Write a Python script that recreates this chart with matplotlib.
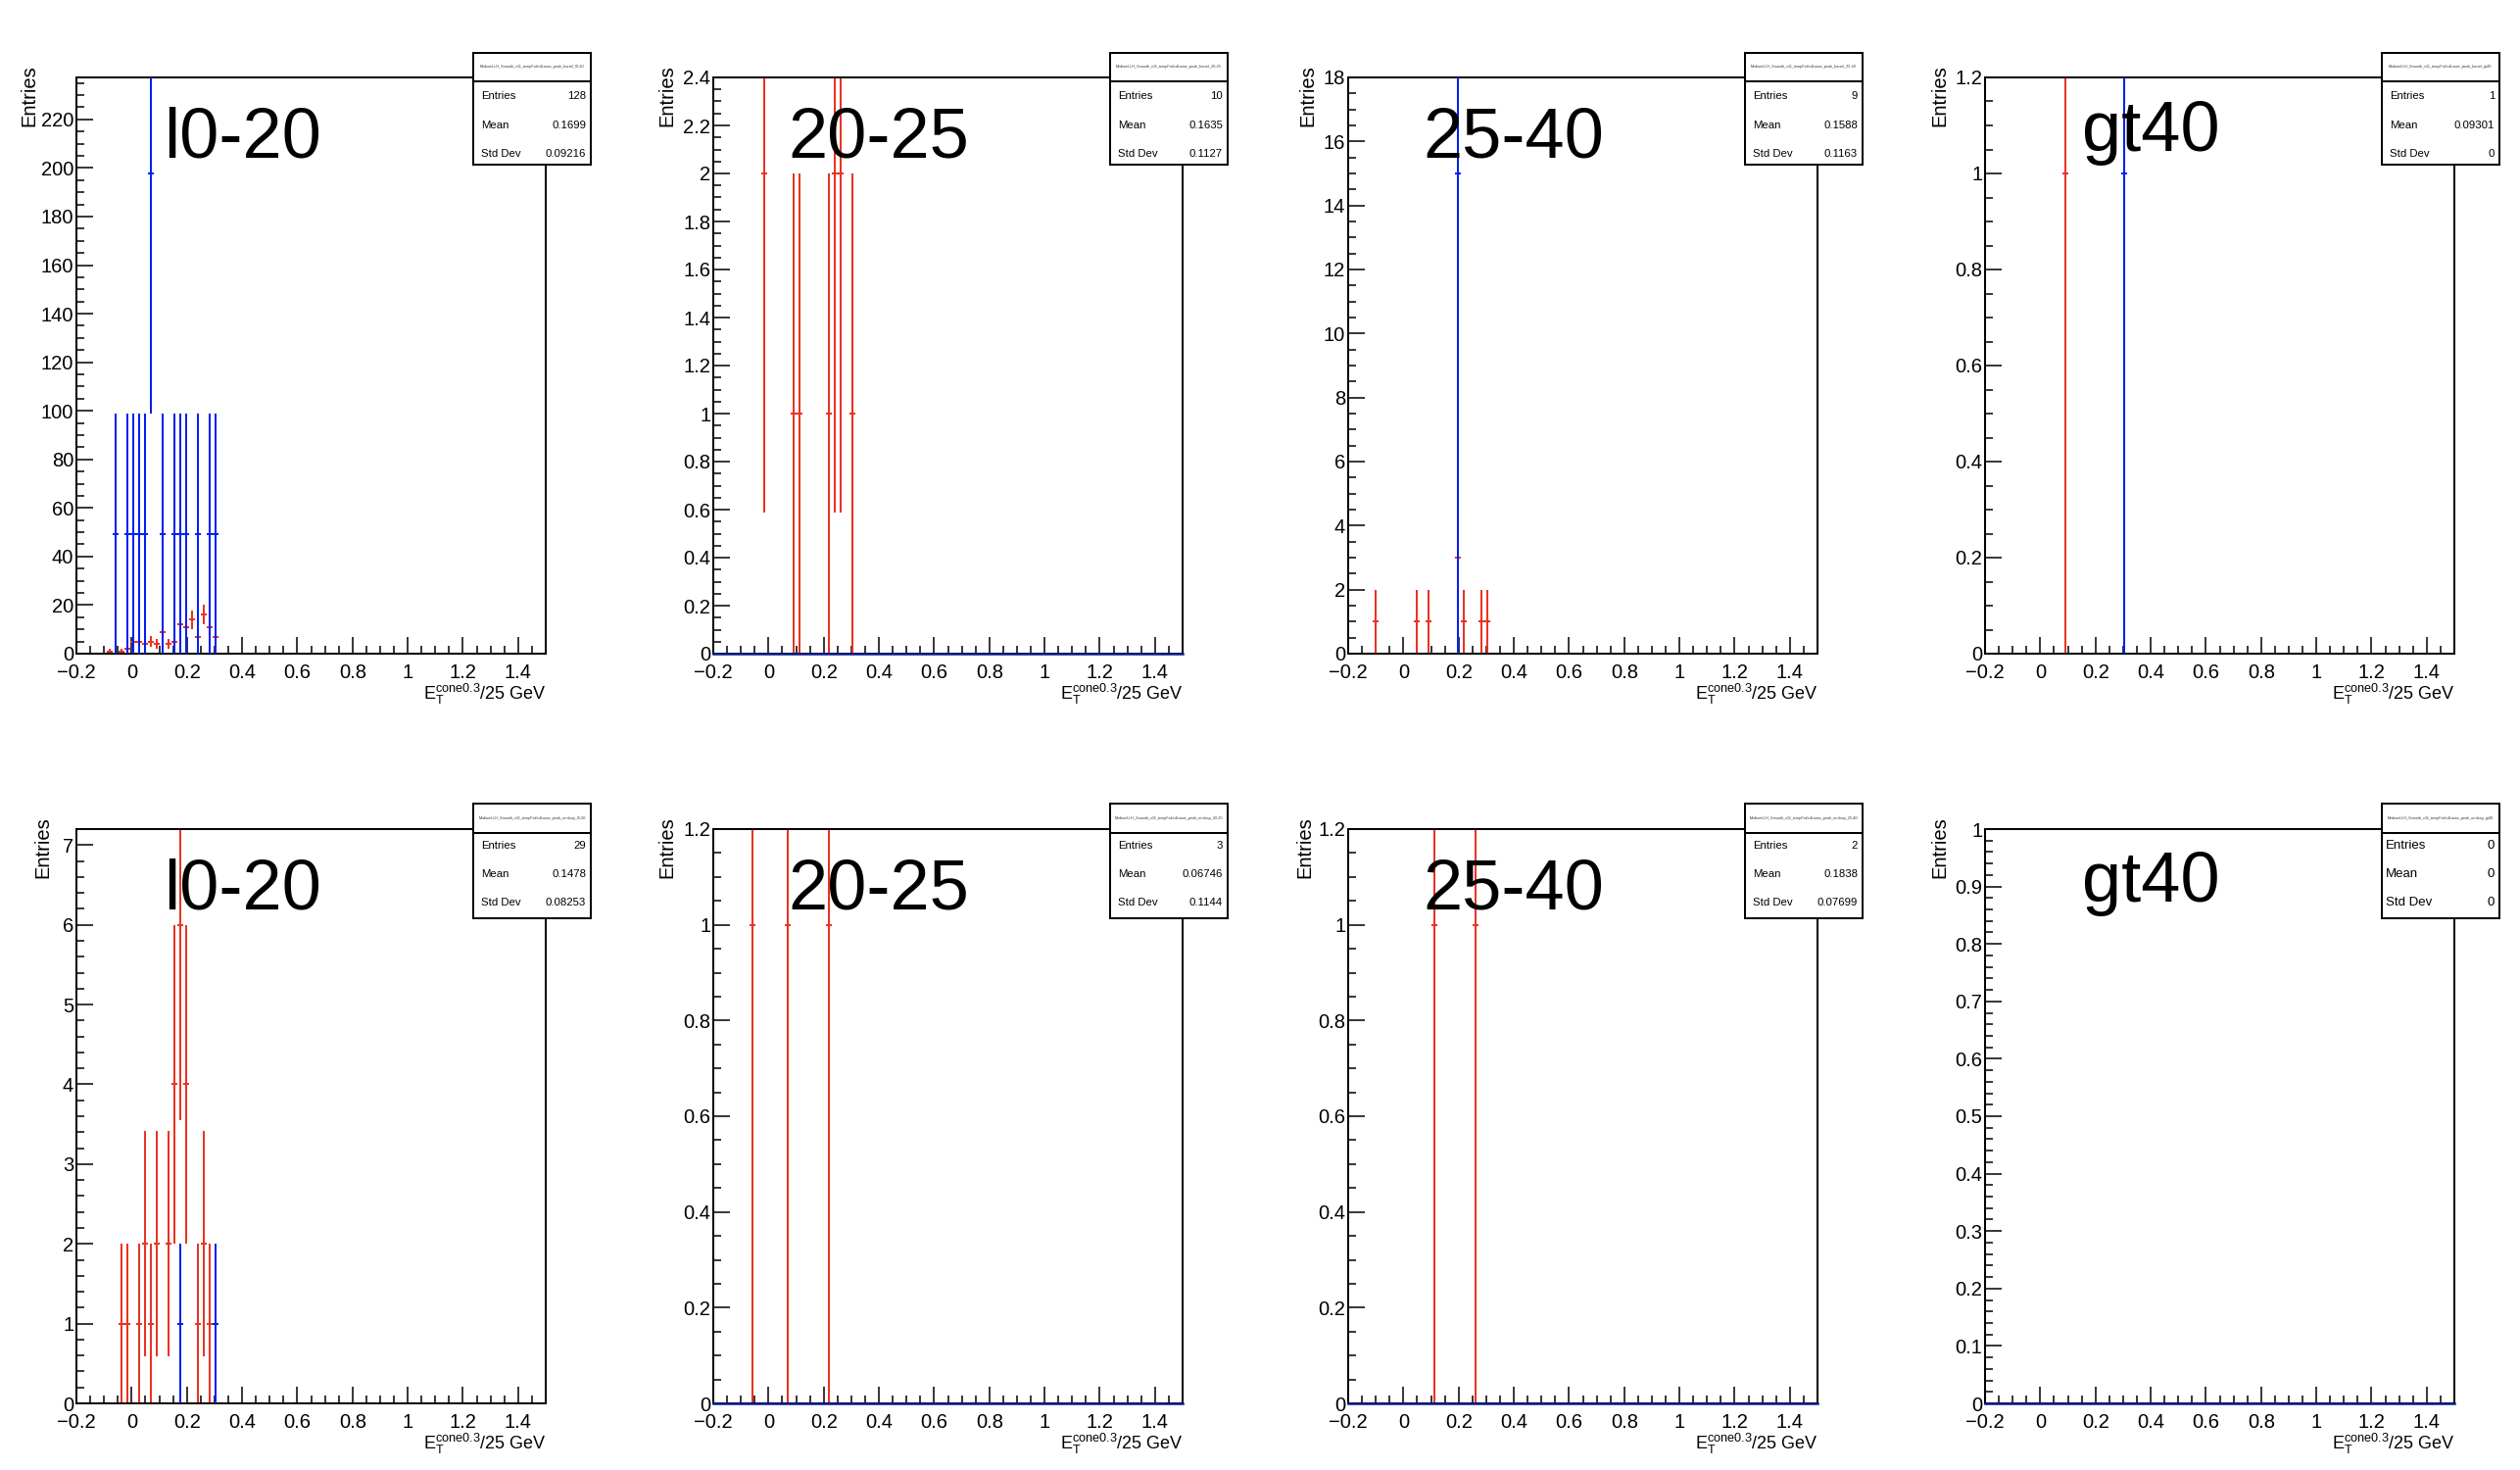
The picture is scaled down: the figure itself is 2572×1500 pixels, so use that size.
import numpy as np
import matplotlib
matplotlib.use("Agg")
import matplotlib.pyplot as plt
from matplotlib.ticker import MultipleLocator, FuncFormatter
from matplotlib.patches import Rectangle
from matplotlib.lines import Line2D

plt.rcParams['font.family'] = ['Liberation Sans', 'DejaVu Sans']
plt.rcParams['mathtext.fontset'] = 'custom'
plt.rcParams['mathtext.rm'] = 'Liberation Sans'
plt.rcParams['mathtext.it'] = 'Liberation Sans:italic'
plt.rcParams['axes.unicode_minus'] = True

# ---------------- data ----------------
bin_width = 0.02125
pt_bins = ["l0-20", "20-25", "25-40", "gt40"]
regions = ["barrel", "endcap"]

# barrel l0-20
red_x_b1 = [-0.0789, -0.0364, -0.0151, 0.0061, 0.0274, 0.0486, 0.0699, 0.0911, 0.1124,
            0.1336, 0.1549, 0.1761, 0.1974, 0.2186, 0.2399, 0.2611, 0.2824, 0.3036]
red_y_b1 = [1, 1, 2, 5, 5, 4, 5, 4, 9, 4, 5, 12, 11, 14, 7, 16, 11, 7]
blue_x_b1 = [-0.0576, -0.0151, 0.0061, 0.0274, 0.0486, 0.0699, 0.1124, 0.1549, 0.1761,
             0.1974, 0.2399, 0.2824, 0.3036]
blue_y_b1 = [49.4, 49.4, 49.4, 49.4, 49.4, 197.7, 49.4, 49.4, 49.4, 49.4, 49.4, 49.4, 49.4]
blue_e_b1 = [49.4, 49.4, 49.4, 49.4, 49.4, 98.8, 49.4, 49.4, 49.4, 49.4, 49.4, 49.4, 49.4]

# barrel 20-25
red_x_b2 = [-0.0151, 0.0911, 0.1124, 0.2186, 0.2399, 0.2611, 0.3036]
red_y_b2 = [2, 1, 1, 1, 2, 2, 1]
blue_x_b2, blue_y_b2, blue_e_b2 = [], [], []

# barrel 25-40
red_x_b3 = [-0.1001, 0.0486, 0.0911, 0.1974, 0.2186, 0.2824, 0.3036]
red_y_b3 = [1, 1, 1, 3, 1, 1, 1]
blue_x_b3 = [0.1974]
blue_y_b3 = [15.0]
blue_e_b3 = [15.0]

# barrel gt40
red_x_b4 = [0.0911]
red_y_b4 = [1]
blue_x_b4 = [0.3036]
blue_y_b4 = [1.0]
blue_e_b4 = [1.0]

# endcap l0-20
red_x_e1 = [-0.0364, -0.0151, 0.0274, 0.0486, 0.0699, 0.0911, 0.1336, 0.1549, 0.1761,
            0.1974, 0.2399, 0.2611, 0.2824]
red_y_e1 = [1, 1, 1, 2, 1, 2, 2, 4, 6, 4, 1, 2, 1]
blue_x_e1 = [0.1761, 0.3036]
blue_y_e1 = [1.0, 1.0]
blue_e_e1 = [1.0, 1.0]

# endcap 20-25
red_x_e2 = [-0.0576, 0.0699, 0.2186]
red_y_e2 = [1, 1, 1]
blue_x_e2, blue_y_e2, blue_e_e2 = [], [], []

# endcap 25-40
red_x_e3 = [0.1124, 0.2611]
red_y_e3 = [1, 1]
blue_x_e3, blue_y_e3, blue_e_e3 = [], [], []

# endcap gt40
red_x_e4, red_y_e4 = [], []
blue_x_e4, blue_y_e4, blue_e_e4 = [], [], []

# y-axis maxima and tick steps
y_max = [237.3, 2.4, 18.0, 1.2, 7.2, 1.2, 1.2, 1.0]
y_major = [20, 0.2, 2, 0.2, 1, 0.2, 0.2, 0.1]
y_minor = [5, 0.05, 0.5, 0.05, 0.2, 0.05, 0.05, 0.02]

# stats boxes
stat_entries = [128, 10, 9, 1, 29, 3, 2, 0]
stat_mean = [0.1699, 0.1635, 0.1588, 0.09301, 0.1478, 0.06746, 0.1838, 0]
stat_std = [0.09216, 0.1127, 0.1163, 0, 0.08253, 0.1144, 0.07699, 0]

panels = [
    (red_x_b1, red_y_b1, blue_x_b1, blue_y_b1, blue_e_b1),
    (red_x_b2, red_y_b2, blue_x_b2, blue_y_b2, blue_e_b2),
    (red_x_b3, red_y_b3, blue_x_b3, blue_y_b3, blue_e_b3),
    (red_x_b4, red_y_b4, blue_x_b4, blue_y_b4, blue_e_b4),
    (red_x_e1, red_y_e1, blue_x_e1, blue_y_e1, blue_e_e1),
    (red_x_e2, red_y_e2, blue_x_e2, blue_y_e2, blue_e_e2),
    (red_x_e3, red_y_e3, blue_x_e3, blue_y_e3, blue_e_e3),
    (red_x_e4, red_y_e4, blue_x_e4, blue_y_e4, blue_e_e4),
]

# ---------------- style ----------------
RED = '#ea3323'
BLUE = '#0020f5'
NAVY = '#0b1c8c'
W, H = 2572, 1500
col_left = [78, 728, 1376, 2026]
ax_w = 479
rows_px = [(79, 667), (846, 1432)]
ylab_cx = [[30, 681, 1335, 1980], [44, 681, 1332, 1980]]

fig = plt.figure(figsize=(W / 100, H / 100), dpi=100)

def fmt(v, pos=None):
    s = f"{v:g}"
    if abs(v) < 1e-9:
        s = "0"
    return s.replace('-', '\u2212')

for idx in range(8):
    r, c = divmod(idx, 4)
    top, bot = rows_px[r]
    left = col_left[c]
    ax = fig.add_axes([left / W, 1 - bot / H, ax_w / W, (bot - top) / H])
    rx, ry, bx, by, be = panels[idx]

    if len(rx):
        ax.errorbar(rx, ry, yerr=np.sqrt(np.array(ry, float)), xerr=bin_width / 2,
                    fmt='none', ecolor=RED, elinewidth=1.45, capsize=0, zorder=2)
    if len(bx):
        ax.errorbar(bx, by, yerr=be, xerr=bin_width / 2,
                    fmt='none', ecolor=BLUE, elinewidth=1.45, capsize=0, zorder=3)
    else:
        ax.add_line(Line2D([-0.2, 1.5], [0, 0], color=NAVY, lw=1.8, zorder=5, clip_on=False))

    ax.set_xlim(-0.2, 1.5)
    ax.set_ylim(0, y_max[idx])
    ax.xaxis.set_major_locator(MultipleLocator(0.2))
    ax.xaxis.set_minor_locator(MultipleLocator(0.05))
    ax.yaxis.set_major_locator(MultipleLocator(y_major[idx]))
    ax.yaxis.set_minor_locator(MultipleLocator(y_minor[idx]))
    ax.xaxis.set_major_formatter(FuncFormatter(fmt))
    ax.yaxis.set_major_formatter(FuncFormatter(fmt))
    ax.tick_params(which='both', direction='in', top=False, right=False, width=1.1,
                   colors='black', labelsize=14.5)
    ax.tick_params(which='major', length=12)
    ax.tick_params(which='minor', length=6)
    ax.tick_params(axis='x', pad=7)
    ax.tick_params(axis='y', pad=2)
    for sp in ax.spines.values():
        sp.set_linewidth(1.44)

    # axis titles
    ax.text(1.0, -0.08, r'$\mathrm{E}_{\mathrm{T}}^{\mathrm{cone0.3}}$/25 GeV',
            transform=ax.transAxes, ha='right', va='baseline', fontsize=13)
    cx = (ylab_cx[r][c] - left) / ax_w
    ax.text(cx, 1.022, 'Entries', transform=ax.transAxes, rotation=90,
            ha='center', va='top', fontsize=14.5)

    # big label
    lab = pt_bins[c]
    yb = 0.873 if lab == 'gt40' else 0.861
    ax.text(0.353, yb, lab, transform=ax.transAxes, fontsize=52, ha='center', va='baseline')

    # stats box
    bl = left + 405
    bw = 120
    if r == 0:
        btop, bsep, bbot = 54, 83, 168
        rows_y = [98, 128, 157]
    else:
        btop, bsep, bbot = 820, 850, 937
        rows_y = [863, 892, 921]
    fig.add_artist(Rectangle((bl / W, 1 - bbot / H), bw / W, (bbot - btop) / H,
                             transform=fig.transFigure, facecolor='white',
                             edgecolor='black', lw=1.44, zorder=10))
    fig.add_artist(Line2D([bl / W, (bl + bw) / W], [1 - bsep / H, 1 - bsep / H],
                          transform=fig.transFigure, color='black', lw=1.44, zorder=11))
    title = f"MediumLLH_Smooth_v11_tempFailedLoose_peak_{regions[r]}_{lab}"
    fig.text((bl + bw / 2) / W, 1 - ((btop + bsep) / 2) / H, title, fontsize=2.7,
             ha='center', va='center', color='#333333', zorder=12)
    fs = 9.5 if idx == 7 else 8.2
    inset = 4 if idx == 7 else 8
    names = ['Entries', 'Mean', 'Std Dev']
    vals = [f"{stat_entries[idx]}", f"{stat_mean[idx]:.4g}", f"{stat_std[idx]:.4g}"]
    for nm, vv, yy in zip(names, vals, rows_y):
        fig.text((bl + inset) / W, 1 - yy / H, nm, fontsize=fs, ha='left', va='center', zorder=12)
        fig.text((bl + bw - 5) / W, 1 - yy / H, vv, fontsize=fs, ha='right', va='center', zorder=12)

fig.savefig('out.png', dpi=100, facecolor='white')
